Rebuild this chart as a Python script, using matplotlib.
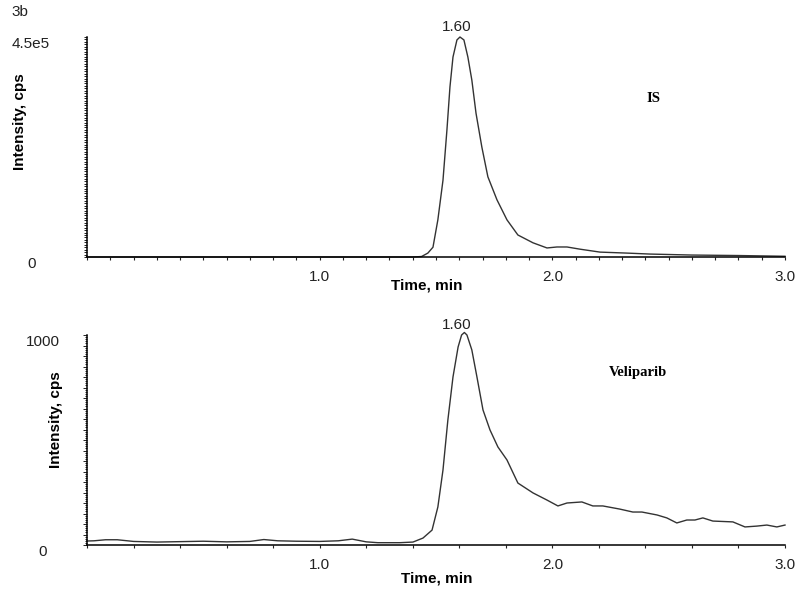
import matplotlib
matplotlib.use("Agg")
import matplotlib.pyplot as plt
from matplotlib.ticker import MultipleLocator, FuncFormatter

plt.rcParams['font.family'] = ['Liberation Sans', 'DejaVu Sans']

# IS trace (top), time in min, intensity in cps
t_is = [0.0, 1.40, 1.438, 1.465, 1.487, 1.508, 1.530, 1.547, 1.560, 1.573,
        1.590, 1.603, 1.620, 1.637, 1.654, 1.672, 1.697, 1.723, 1.762, 1.805,
        1.852, 1.917, 1.977, 2.020, 2.063, 2.119, 2.205, 2.320, 2.420, 2.600,
        2.800, 3.000]
i_is = [0, 0, 1e3, 8e3, 2.0e4, 7.6e4, 1.57e5, 2.6e5, 3.48e5, 4.09e5,
        4.44e5, 4.5e5, 4.44e5, 4.09e5, 3.62e5, 2.94e5, 2.25e5, 1.64e5, 1.17e5, 7.6e4,
        4.5e4, 2.9e4, 1.85e4, 2.05e4, 2.05e4, 1.6e4, 1.0e4, 8e3, 6e3, 4e3,
        3e3, 1.5e3]

# Veliparib trace (bottom)
t_vel = [0.00, 0.03, 0.08, 0.13, 0.20, 0.30, 0.40, 0.50, 0.60, 0.70,
         0.76, 0.82, 0.90, 1.00, 1.08, 1.14, 1.20, 1.25, 1.30, 1.345,
         1.401, 1.444, 1.483, 1.508, 1.530, 1.551, 1.573, 1.595, 1.610, 1.622, 1.633,
         1.654, 1.676, 1.702, 1.732, 1.766, 1.805, 1.852, 1.917, 1.977, 2.024,
         2.063, 2.127, 2.174, 2.217, 2.290, 2.346, 2.385, 2.450, 2.492, 2.535,
         2.578, 2.613, 2.647, 2.690, 2.776, 2.828, 2.879, 2.922, 2.965, 3.000]
i_vel = [19, 20, 25, 25, 17, 14, 16, 18, 15, 17,
         26, 20, 18, 17, 20, 28, 15, 11, 11, 11,
         14, 33, 71, 181, 357, 595, 800, 943, 1000, 1012, 1000,
         929, 800, 643, 548, 467, 405, 295, 248, 214, 186,
         200, 205, 186, 186, 171, 157, 157, 143, 129, 105,
         119, 119, 129, 114, 110, 86, 90, 95, 86, 95]

peak_rt = "1.60"
x_labels = {1: "1.0", 2: "2.0", 3: "3.0"}

W, H = 798, 590
fig = plt.figure(figsize=(W / 100, H / 100), dpi=100)
ax1 = fig.add_axes([87 / W, 1 - 257 / H, 698 / W, 220 / H])
ax2 = fig.add_axes([87 / W, 1 - 545 / H, 698 / W, 210 / H])


def xfmt(v, pos):
    r = round(v, 3)
    if r > 0 and abs(r - round(r)) < 1e-6:
        return x_labels.get(int(round(r)), "")
    return ""


def setup(ax, ymax, ystep, ylabels, xstep, ypad, ylen):
    ax.set_xlim(0, 3.0)
    ax.set_ylim(0, ymax)
    for s in ["top", "right"]:
        ax.spines[s].set_visible(False)
    for s in ["left", "bottom"]:
        ax.spines[s].set_linewidth(1.1)
    ax.xaxis.set_major_locator(MultipleLocator(xstep))
    ax.xaxis.set_major_formatter(FuncFormatter(xfmt))
    ax.yaxis.set_major_locator(MultipleLocator(ystep))
    ax.yaxis.set_major_formatter(FuncFormatter(
        lambda v, p: ylabels.get(int(round(v)), "")))
    ax.tick_params(axis="x", direction="out", length=2.5, width=0.8,
                   pad=7, labelsize=11, colors="#222222")
    ax.tick_params(axis="y", direction="out", length=ylen, width=0.7,
                   pad=ypad, labelsize=11, colors="#222222")
    for lab in ax.get_yticklabels():
        lab.set_ha("center")
        lab.set_va("top")


setup(ax1, 4.5e5, 5000, {0: "0", 450000: "4.5e5"}, 0.1, 38, 2.2)
setup(ax2, 1000, 50, {0: "0", 1000: "1000"}, 0.2, 29, 3.0)
ax2.yaxis.set_minor_locator(MultipleLocator(10))
ax2.tick_params(axis="y", which="minor", direction="out", length=1.5, width=0.6)

ax1.plot(t_is, i_is, color="#333333", lw=1.0, clip_on=False)
ax2.plot(t_vel, i_vel, color="#333333", lw=1.0, clip_on=False)

for ax in (ax1, ax2):
    ax.annotate(peak_rt, xy=(1.59, ax.get_ylim()[1]), xytext=(0, 2),
                textcoords="offset points", ha="center", va="bottom",
                fontsize=11, color="#222222")
    ax.set_xlabel("Time, min", fontsize=11, fontweight="bold")
    ax.set_ylabel("Intensity, cps", fontsize=11, fontweight="bold")

ax1.xaxis.set_label_coords(0.487, -0.10)
ax2.xaxis.set_label_coords(0.501, -0.124)
ax1.yaxis.set_label_coords(-0.086, 0.614)
ax2.yaxis.set_label_coords(-0.034, 0.595)

ax1.text(0.811, 0.72, "IS", transform=ax1.transAxes, ha="center", va="center",
         family=["Liberation Serif", "DejaVu Serif"], fontweight="bold", fontsize=10.5)
ax2.text(0.789, 0.82, "Veliparib", transform=ax2.transAxes, ha="center", va="center",
         family=["Liberation Serif", "DejaVu Serif"], fontweight="bold", fontsize=10.5)

fig.text(20 / W, 1 - 12 / H, "3b", ha="center", va="center", fontsize=11, color="#222222")

fig.savefig("out.png", dpi=100)
